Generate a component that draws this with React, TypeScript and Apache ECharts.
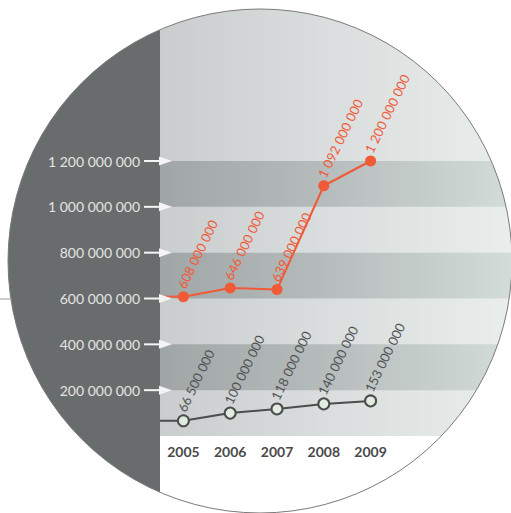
import React, { useEffect, useRef } from "react";
import * as echarts from "echarts";

const years = [2005, 2006, 2007, 2008, 2009];
const revenueA = [608000000, 646000000, 639000000, 1092000000, 1200000000];
const revenueB = [66500000, 100000000, 118000000, 140000000, 153000000];
const yTicks = [200000000, 400000000, 600000000, 800000000, 1000000000, 1200000000];

const X_MIN = 2004.5;
const X_MAX = 2012;
const Y_MAX = 1200000000;
const Y_STEP = 200000000;

const ORANGE = "#f05a37";
const DARKLINE = "#4b4d4d";
const FONT = "Lato, 'Open Sans', sans-serif";

const fmt = (v: number) =>
  Math.round(v)
    .toString()
    .replace(/\B(?=(\d{3})+(?!\d))/g, " ");

const CX = 260;
const CY = 261;
const R = 252;

export default function App() {
  const ref = useRef<HTMLDivElement>(null);

  useEffect(() => {
    if (!ref.current) return;
    const chart = echarts.init(ref.current, undefined, { renderer: "svg" });

    const lightGrad = {
      type: "linear",
      x: 0,
      y: 0,
      x2: 1,
      y2: 0,
      colorStops: [
        { offset: 0, color: "#c9cdce" },
        { offset: 0.45, color: "#d9dddd" },
        { offset: 1, color: "#eaeeec" },
      ],
    };
    const darkGrad = {
      type: "linear",
      x: 0,
      y: 0,
      x2: 1,
      y2: 0,
      colorStops: [
        { offset: 0, color: "#a0a5a6" },
        { offset: 0.45, color: "#b5bbbb" },
        { offset: 1, color: "#d2dcd8" },
      ],
    };

    const labelBase = {
      show: true,
      position: "top",
      rotate: 64,
      align: "left",
      verticalAlign: "middle",
      distance: 8,
      offset: [-5, 0],
      fontSize: 13,
      fontFamily: FONT,
      formatter: (p: any) => fmt(p.value[1]),
    };

    chart.setOption({
      animation: false,
      backgroundColor: "#ffffff",
      grid: { left: 160, right: -3, top: 161, bottom: 77, containLabel: false },
      xAxis: {
        type: "value",
        min: X_MIN,
        max: X_MAX,
        axisLine: { show: false },
        axisTick: { show: false },
        splitLine: { show: false },
        axisLabel: {
          customValues: years,
          formatter: (v: number) => String(v),
          color: "#4a4a4a",
          fontSize: 14,
          fontWeight: "bold",
          fontFamily: FONT,
          margin: 8,
        },
      },
      yAxis: {
        type: "value",
        min: 0,
        max: Y_MAX,
        interval: Y_STEP,
        axisLine: { show: false },
        axisTick: { show: false },
        splitLine: { show: false },
        splitArea: {
          show: true,
          areaStyle: { color: ["rgba(0,0,0,0)", darkGrad] },
        },
        axisLabel: {
          showMinLabel: false,
          formatter: (v: number) => fmt(v),
          color: "#e4e4e4",
          fontSize: 14,
          fontFamily: FONT,
          margin: 20,
        },
      },
      graphic: {
        elements: [
          {
            type: "rect",
            shape: { x: 160, y: 0, width: 360, height: 436 },
            style: { fill: lightGrad },
            z: -10,
            silent: true,
          },
          {
            type: "rect",
            shape: { x: 0, y: 0, width: 160, height: 513 },
            style: { fill: "#696c6d" },
            z: -9,
            silent: true,
          },
          {
            type: "ring",
            shape: { cx: CX, cy: CY, r: 900, r0: R },
            style: { fill: "#ffffff" },
            z: 100,
            silent: true,
          },
          {
            type: "circle",
            shape: { cx: CX, cy: CY, r: R },
            style: { fill: "none", stroke: "#7a7a7a", lineWidth: 1 },
            z: 101,
            silent: true,
          },
          {
            type: "line",
            shape: { x1: 0, y1: 299, x2: 12, y2: 299 },
            style: { stroke: "#9a9a9a", lineWidth: 1 },
            z: 101,
            silent: true,
          },
        ],
      },
      series: [
        {
          type: "custom",
          clip: false,
          silent: true,
          z: 10,
          data: yTicks.map((v) => [X_MIN, v]),
          renderItem: (params: any, api: any) => {
            const y = api.coord([X_MIN, api.value(1)])[1];
            const x0 = params.coordSys.x;
            return {
              type: "group",
              children: [
                {
                  type: "line",
                  shape: { x1: x0 - 16, y1: y, x2: x0, y2: y },
                  style: { stroke: "#f4f4f4", lineWidth: 2 },
                },
                {
                  type: "polygon",
                  shape: {
                    points: [
                      [x0 - 1, y - 4.5],
                      [x0 + 12, y],
                      [x0 - 1, y + 4.5],
                    ],
                  },
                  style: { fill: "#f4f4f4" },
                },
              ],
            };
          },
        },
        {
          type: "line",
          silent: true,
          symbol: "none",
          z: 4,
          lineStyle: { color: ORANGE, width: 2 },
          data: [
            [X_MIN, revenueA[0]],
            [years[0], revenueA[0]],
          ],
        },
        {
          type: "line",
          silent: true,
          symbol: "none",
          z: 4,
          lineStyle: { color: DARKLINE, width: 2 },
          data: [
            [X_MIN, revenueB[0]],
            [years[0], revenueB[0]],
          ],
        },
        {
          type: "line",
          z: 5,
          symbol: "circle",
          symbolSize: 11,
          lineStyle: { color: ORANGE, width: 2 },
          itemStyle: { color: ORANGE },
          label: { ...labelBase, color: ORANGE },
          data: years.map((y, i) => [y, revenueA[i]]),
        },
        {
          type: "line",
          z: 5,
          symbol: "circle",
          symbolSize: 11,
          lineStyle: { color: DARKLINE, width: 2 },
          itemStyle: { color: "#e1ebe1", borderColor: DARKLINE, borderWidth: 2 },
          label: { ...labelBase, color: "#505252" },
          data: years.map((y, i) => [y, revenueB[i]]),
        },
      ],
    });

    return () => chart.dispose();
  }, []);

  return (
    <div
      ref={ref}
      style={{ position: "absolute", left: 0, top: 0, width: 511, height: 513 }}
    />
  );
}
